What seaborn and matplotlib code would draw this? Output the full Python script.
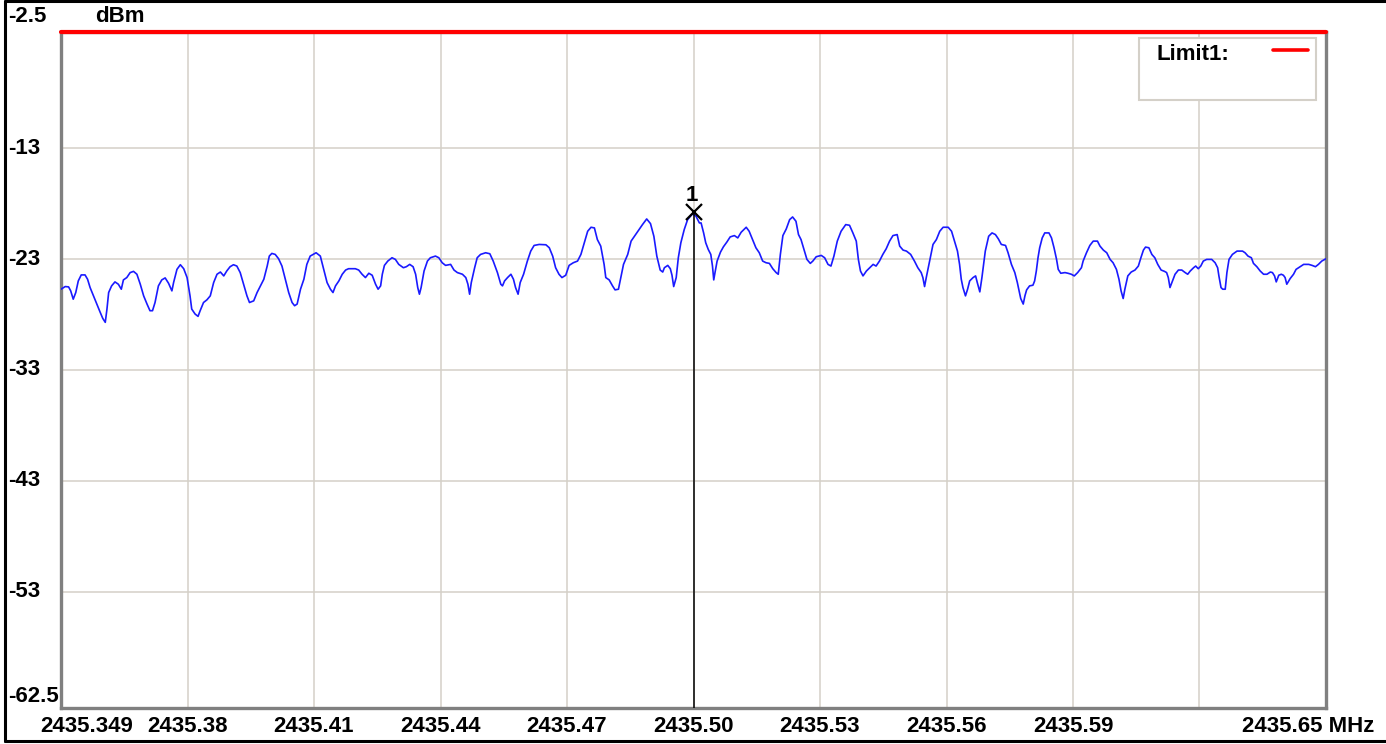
import pandas as pd
import seaborn as sns
import matplotlib.pyplot as plt
from matplotlib import transforms
from matplotlib.patches import Rectangle
from matplotlib.lines import Line2D

# Spectrum trace (MHz, dBm)
FREQ_MHZ = [
    2435.3500, 2435.3510, 2435.3518, 2435.3523, 2435.3529, 2435.3535, 2435.3541, 2435.3548, 2435.3557, 2435.3563,
    2435.3569, 2435.3577, 2435.3585, 2435.3593, 2435.3599, 2435.3605, 2435.3609, 2435.3613, 2435.3620, 2435.3628,
    2435.3636, 2435.3643, 2435.3648, 2435.3656, 2435.3664, 2435.3672, 2435.3680, 2435.3688, 2435.3696, 2435.3704,
    2435.3711, 2435.3717, 2435.3723, 2435.3731, 2435.3739, 2435.3747, 2435.3755, 2435.3763, 2435.3767, 2435.3775,
    2435.3783, 2435.3791, 2435.3799, 2435.3806, 2435.3810, 2435.3818, 2435.3825, 2435.3830, 2435.3838, 2435.3846,
    2435.3854, 2435.3862, 2435.3870, 2435.3878, 2435.3886, 2435.3893, 2435.3901, 2435.3909, 2435.3917, 2435.3925,
    2435.3933, 2435.3941, 2435.3947, 2435.3957, 2435.3965, 2435.3973, 2435.3981, 2435.3989, 2435.3994, 2435.4000,
    2435.4008, 2435.4016, 2435.4024, 2435.4032, 2435.4040, 2435.4048, 2435.4054, 2435.4060, 2435.4068, 2435.4076,
    2435.4083, 2435.4091, 2435.4105, 2435.4115, 2435.4123, 2435.4131, 2435.4139, 2435.4145, 2435.4151, 2435.4159,
    2435.4167, 2435.4175, 2435.4182, 2435.4198, 2435.4206, 2435.4214, 2435.4222, 2435.4230, 2435.4238, 2435.4246,
    2435.4252,
    2435.4258, 2435.4262, 2435.4267, 2435.4275, 2435.4285, 2435.4293, 2435.4301, 2435.4312, 2435.4319, 2435.4327,
    2435.4335, 2435.4341, 2435.4346, 2435.4350, 2435.4354, 2435.4361, 2435.4369, 2435.4376, 2435.4388, 2435.4396,
    2435.4404, 2435.4412, 2435.4424, 2435.4432, 2435.4440, 2435.4452, 2435.4460, 2435.4465, 2435.4469, 2435.4473,
    2435.4481, 2435.4487, 2435.4495, 2435.4507, 2435.4517, 2435.4525, 2435.4535, 2435.4543, 2435.4547, 2435.4552,
    2435.4559, 2435.4567, 2435.4573, 2435.4578, 2435.4584, 2435.4589, 2435.4597, 2435.4606, 2435.4614, 2435.4622,
    2435.4634, 2435.4650, 2435.4658, 2435.4666, 2435.4673, 2435.4681, 2435.4688, 2435.4697, 2435.4705, 2435.4715,
    2435.4725, 2435.4733, 2435.4741, 2435.4749, 2435.4757, 2435.4765, 2435.4772, 2435.4780, 2435.4788, 2435.4792,
    2435.4800, 2435.4808, 2435.4814, 2435.4822, 2435.4826, 2435.4834, 2435.4844, 2435.4852, 2435.4860, 2435.4871,
    2435.4879, 2435.4889, 2435.4898, 2435.4906, 2435.4913, 2435.4921, 2435.4927, 2435.4931, 2435.4939, 2435.4945,
    2435.4949, 2435.4953, 2435.4959, 2435.4964, 2435.4970, 2435.4978, 2435.4986, 2435.4998, 2435.5006, 2435.5014,
    2435.5018, 2435.5024, 2435.5029, 2435.5035, 2435.5041, 2435.5045, 2435.5048, 2435.5051, 2435.5056, 2435.5064,
    2435.5071, 2435.5079, 2435.5087, 2435.5097, 2435.5105, 2435.5113, 2435.5125, 2435.5132, 2435.5140, 2435.5148,
    2435.5156, 2435.5164, 2435.5172, 2435.5180, 2435.5188, 2435.5196, 2435.5201, 2435.5206, 2435.5212, 2435.5220,
    2435.5228, 2435.5235, 2435.5243, 2435.5249, 2435.5255, 2435.5263, 2435.5269, 2435.5277, 2435.5283, 2435.5291,
    2435.5303, 2435.5311, 2435.5319, 2435.5326, 2435.5333, 2435.5341, 2435.5350, 2435.5361, 2435.5370, 2435.5378,
    2435.5386, 2435.5391, 2435.5396, 2435.5402, 2435.5410, 2435.5418, 2435.5426, 2435.5433, 2435.5441, 2435.5449,
    2435.5457, 2435.5465, 2435.5473, 2435.5483, 2435.5489, 2435.5497, 2435.5505, 2435.5515, 2435.5524, 2435.5532,
    2435.5540, 2435.5544, 2435.5548, 2435.5552, 2435.5560, 2435.5568, 2435.5576, 2435.5584, 2435.5592, 2435.5604,
    2435.5612, 2435.5620, 2435.5626, 2435.5631, 2435.5635, 2435.5639, 2435.5645, 2435.5650, 2435.5655, 2435.5663,
    2435.5669, 2435.5673, 2435.5679, 2435.5684, 2435.5692, 2435.5700, 2435.5708, 2435.5716, 2435.5723, 2435.5730,
    2435.5740, 2435.5746, 2435.5754, 2435.5762, 2435.5768, 2435.5776,
    2435.5782, 2435.5786, 2435.5790, 2435.5797, 2435.5805, 2435.5809, 2435.5813, 2435.5817, 2435.5821, 2435.5827,
    2435.5833, 2435.5843, 2435.5849, 2435.5855, 2435.5861, 2435.5865, 2435.5871, 2435.5881, 2435.5888, 2435.5896,
    2435.5903, 2435.5911, 2435.5920, 2435.5924, 2435.5932, 2435.5940, 2435.5948, 2435.5958, 2435.5964, 2435.5972,
    2435.5980, 2435.5988, 2435.5995, 2435.6003, 2435.6009, 2435.6014, 2435.6019, 2435.6023, 2435.6030, 2435.6038,
    2435.6047, 2435.6055, 2435.6061, 2435.6067, 2435.6072, 2435.6080, 2435.6087, 2435.6094, 2435.6101, 2435.6109,
    2435.6117, 2435.6122, 2435.6126, 2435.6130, 2435.6136, 2435.6142, 2435.6150, 2435.6158, 2435.6166, 2435.6172,
    2435.6178, 2435.6186, 2435.6191, 2435.6197, 2435.6203, 2435.6209, 2435.6217, 2435.6229, 2435.6237, 2435.6243,
    2435.6246, 2435.6251, 2435.6255, 2435.6261, 2435.6265, 2435.6270, 2435.6278, 2435.6289, 2435.6302, 2435.6308,
    2435.6315, 2435.6323, 2435.6328, 2435.6336, 2435.6344, 2435.6352, 2435.6360, 2435.6368, 2435.6373, 2435.6378,
    2435.6382, 2435.6388, 2435.6394, 2435.6399, 2435.6403, 2435.6407, 2435.6415, 2435.6423, 2435.6429, 2435.6435,
    2435.6447, 2435.6459, 2435.6467, 2435.6475, 2435.6482, 2435.6490, 2435.6500,
]
LEVEL_DBM = [
    -25.71, -25.47, -25.50, -25.86, -26.61, -26.01, -24.96, -24.42, -24.42, -24.81,
    -25.56, -26.31, -27.05, -27.80, -28.34, -28.70, -27.50, -26.01, -25.41, -25.05,
    -25.26, -25.71, -24.87, -24.66, -24.21, -24.10, -24.36, -25.26, -26.31, -27.05,
    -27.65, -27.65, -26.91, -25.41, -24.87, -24.69, -25.17, -25.86, -25.11, -23.92,
    -23.50, -23.86, -24.66, -26.31, -27.50, -27.95, -28.16, -27.65, -26.91, -26.67,
    -26.31, -25.11, -24.36, -24.16, -24.51, -24.07, -23.68, -23.50, -23.62, -24.21,
    -25.26, -26.31, -26.91, -26.76, -26.01, -25.41, -24.81, -23.62, -22.72, -22.48,
    -22.57, -22.96, -23.62, -24.81, -26.01, -26.91, -27.20, -27.05, -25.71, -24.81,
    -23.47, -22.72, -22.42, -22.72, -23.92, -25.11, -25.71, -26.01, -25.41, -24.96,
    -24.36, -23.98, -23.86, -23.86, -23.98, -24.36, -24.66, -24.27, -24.45, -25.26,
    -25.71,
    -25.41, -24.36, -23.56, -23.17, -22.87, -23.02, -23.47, -23.77, -23.68, -23.47,
    -23.68, -24.36, -25.56, -26.16, -25.56, -24.07, -23.17, -22.87, -22.72, -22.87,
    -23.32, -23.56, -23.47, -23.98, -24.21, -24.36, -24.66, -25.26, -26.16, -25.11,
    -23.77, -22.87, -22.57, -22.42, -22.51, -23.17, -24.21, -25.26, -25.41, -24.96,
    -24.66, -24.36, -24.81, -25.56, -26.16, -25.11, -24.36, -23.17, -22.27, -21.76,
    -21.67, -21.70, -21.97, -22.72, -23.77, -24.36, -24.66, -24.45, -23.56, -23.32,
    -23.17, -22.57, -21.52, -20.48, -20.12, -20.18, -21.23, -21.82, -23.47, -24.66,
    -24.87, -25.41, -25.77, -25.71, -24.96, -23.47, -22.57, -21.37, -20.93, -20.33,
    -19.88, -19.37, -19.79, -20.93, -22.72, -23.98, -24.16, -23.77, -23.56, -23.86,
    -24.45, -25.47, -24.66, -22.87, -21.52, -20.33, -19.43, -18.89, -19.13, -19.73,
    -19.73, -20.63, -21.52, -22.12, -22.57, -23.62, -24.87, -24.21, -23.17, -22.36,
    -21.88, -21.46, -20.99, -20.87, -21.08, -20.57, -20.12, -20.48, -21.23, -21.97,
    -22.42, -23.17, -23.32, -23.38, -23.86, -24.21, -24.36, -22.57, -20.87, -20.27,
    -19.43, -19.19, -19.58, -20.78, -21.23, -22.27, -23.02, -23.38, -23.17, -22.78,
    -22.66, -22.87, -23.47, -23.62, -22.72, -21.37, -20.48, -19.88, -19.94, -20.63,
    -21.37, -23.02, -24.07, -24.51, -24.07, -23.77, -23.47, -23.62, -23.17, -22.57,
    -22.06, -21.37, -20.87, -20.78, -21.82, -22.18, -22.27, -22.57, -23.17, -23.77,
    -24.21, -24.66, -25.47, -24.66, -23.17, -21.67, -21.23, -20.48, -20.12, -20.12,
    -20.48, -21.52, -22.27, -23.47, -24.81, -25.56, -26.31, -25.71, -24.96, -24.66,
    -24.51, -25.11, -25.95, -24.66, -22.27, -20.93, -20.63, -20.78, -21.17, -21.67,
    -21.76, -22.42, -23.47, -24.21, -25.11, -26.55,
    -27.05, -26.31, -25.77, -25.41, -25.35, -24.96, -24.07, -22.87, -21.97, -21.08,
    -20.63, -20.63, -21.08, -21.97, -23.02, -23.92, -24.27, -24.21, -24.27, -24.36,
    -24.51, -24.21, -23.77, -23.17, -22.42, -21.76, -21.37, -21.37, -21.82, -22.18,
    -22.42, -23.02, -23.32, -23.92, -24.81, -25.86, -26.55, -25.71, -24.51, -24.16,
    -23.98, -23.62, -22.87, -22.18, -21.91, -21.97, -22.57, -22.87, -23.47, -23.98,
    -24.10, -24.21, -24.66, -25.56, -24.96, -24.36, -23.98, -23.98, -24.21, -24.36,
    -24.07, -23.77, -23.62, -23.86, -23.62, -23.17, -23.02, -23.02, -23.32, -23.77,
    -24.51, -25.56, -25.71, -25.71, -24.21, -23.02, -22.57, -22.27, -22.27, -22.42,
    -22.72, -22.87, -23.38, -23.68, -24.07, -24.36, -24.36, -24.16, -24.21, -24.51,
    -25.05, -24.45, -24.36, -24.45, -24.66, -25.26, -24.75, -24.36, -23.92, -23.77,
    -23.47, -23.47, -23.56, -23.68, -23.47, -23.17, -22.96,
]

LIMIT1_DBM = -2.5
MARKER_FREQ = 2435.50
MARKER_LEVEL = -18.75
MARKER_NAME = "1"

X_RANGE = (2435.35, 2435.65)
Y_RANGE = (-63.5, -2.5)
X_GRID = [2435.38, 2435.41, 2435.44, 2435.47, 2435.50, 2435.53, 2435.56, 2435.59, 2435.62]
X_LABELS = ["2435.38", "2435.41", "2435.44", "2435.47", "2435.50", "2435.53", "2435.56", "2435.59", ""]
Y_GRID = [-13, -23, -33, -43, -53]
Y_BOTTOM_LABEL = -62.5

W, H = 1386, 744
FONT = dict(fontsize=16, fontweight="bold", color="black")

sns.set_style("white")
plt.rcParams["font.family"] = ["Liberation Sans", "DejaVu Sans"]

fig = plt.figure(figsize=(W / 100, H / 100), dpi=100)
ax = fig.add_axes([61 / W, 1 - 708 / H, (1326 - 61) / W, (708 - 32) / H])

df = pd.DataFrame({"freq": FREQ_MHZ, "level": LEVEL_DBM})
sns.lineplot(data=df, x="freq", y="level", ax=ax, color="#1a1aff",
             linewidth=1.2, estimator=None, sort=False, zorder=3)

ax.set_xlim(*X_RANGE)
ax.set_ylim(*Y_RANGE)
ax.set_xlabel("")
ax.set_ylabel("")

# grid and frame
ax.set_xticks(X_GRID)
ax.set_xticklabels(X_LABELS, **FONT)
ax.tick_params(axis="x", length=0, pad=6)
ax.set_yticks(Y_GRID)
ax.tick_params(axis="y", length=0, labelleft=False)
ax.grid(True, color="#d4d0c8", linewidth=1.1)
ax.set_axisbelow(True)
for side in ["left", "right", "bottom", "top"]:
    ax.spines[side].set_color("#808080")
    ax.spines[side].set_linewidth(2.4)

# limit line
ax.axhline(LIMIT1_DBM, color="#ff0000", linewidth=3, clip_on=False, zorder=5)

# marker 1
ax.vlines(MARKER_FREQ, Y_RANGE[0], MARKER_LEVEL, color="black", linewidth=1.1, zorder=4)
ax.plot([MARKER_FREQ], [MARKER_LEVEL], marker="x", markersize=11, mew=1.6,
        color="black", zorder=6)
ax.annotate(MARKER_NAME, (MARKER_FREQ, MARKER_LEVEL), xytext=(-1, 12),
            textcoords="offset points", ha="center", va="center", **FONT)

# y labels on the far left
ytrans = transforms.blended_transform_factory(fig.transFigure, ax.transData)
for v in Y_GRID + [Y_BOTTOM_LABEL]:
    fig.text(8 / W, v, f"{v:g}", transform=ytrans, ha="left", va="center", **FONT)
fig.text(8 / W, 1 - 17 / H, f"{LIMIT1_DBM:g}", ha="left", va="center", **FONT)
fig.text(95 / W, 1 - 17 / H, "dBm", ha="left", va="center", **FONT)

# end labels of the frequency axis
fig.text(40 / W, 1 - 727 / H, "2435.349", ha="left", va="center", **FONT)
fig.text(1374 / W, 1 - 727 / H, "2435.65 MHz", ha="right", va="center", **FONT)

# legend box
fig.add_artist(Rectangle((1139 / W, 1 - 100 / H), 177 / W, 62 / H, transform=fig.transFigure,
                         facecolor="white", edgecolor="#d4d0c8", linewidth=1.5, zorder=6))
fig.text(1156 / W, 1 - 54 / H, "Limit1:", ha="left", va="center", zorder=7, **FONT)
fig.add_artist(Line2D([1273 / W, 1308 / W], [1 - 50 / H, 1 - 50 / H], transform=fig.transFigure,
                      color="#ff0000", linewidth=2.6, zorder=7))

# window border
for xs, ys in [([5 / W, 5 / W], [1 - 741 / H, 1 - 1 / H]),
               ([5 / W, 1], [1 - 1 / H, 1 - 1 / H]),
               ([5 / W, 1], [1 - 741 / H, 1 - 741 / H])]:
    fig.add_artist(Line2D(xs, ys, transform=fig.transFigure, color="black", linewidth=2.2))

fig.savefig("out.png", dpi=100)
